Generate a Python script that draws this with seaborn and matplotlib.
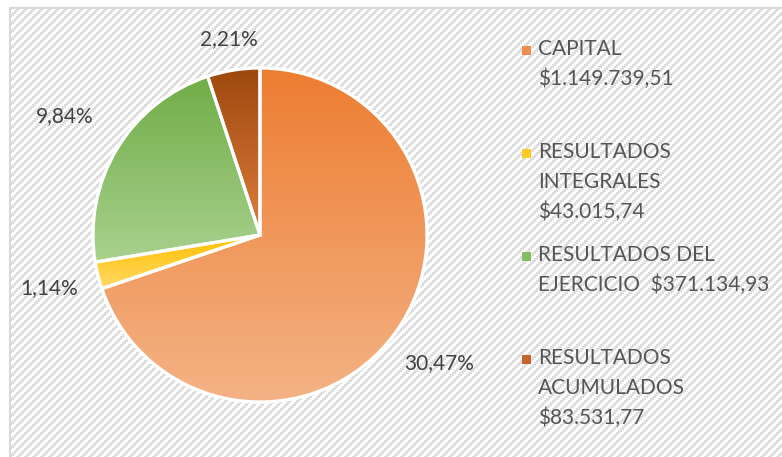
import matplotlib.pyplot as plt
import matplotlib.colors as mcolors
import seaborn as sns
import numpy as np
from matplotlib.patches import Rectangle

# data
categories = ["CAPITAL", "RESULTADOS INTEGRALES", "RESULTADOS DEL EJERCICIO", "RESULTADOS ACUMULADOS"]
values = [1149739.51, 43015.74, 371134.93, 83531.77]
pct_labels = ["30,47%", "1,14%", "9,84%", "2,21%"]
legend_labels = [
    "CAPITAL\n\\$1.149.739,51",
    "RESULTADOS\nINTEGRALES\n\\$43.015,74",
    "RESULTADOS DEL\nEJERCICIO  \\$371.134,93",
    "RESULTADOS\nACUMULADOS\n\\$83.531,77",
]
top_colors = ["#ED7D31", "#FFC000", "#70AD47", "#9E480E"]
bottom_colors = ["#F4B386", "#FFD966", "#A9D18E", "#DE7E3E"]
key_colors = ["#F08C50", "#FFC926", "#86BC62", "#C4662B"]

sns.set_theme(style="white")
plt.rcParams["font.family"] = ["Lato", "DejaVu Sans"]

fig = plt.figure(figsize=(7.82, 4.57), dpi=100)
ax = fig.add_axes([0, 0, 1, 1])
ax.set_xlim(0, 782)
ax.set_ylim(0, 457)
ax.set_autoscale_on(False)

# textured background (stepped diagonal stripes) inside a grey frame
W, H = 782, 457
yy, xx = np.mgrid[0:H, 0:W]
stripe = (xx // 2 + yy // 2) % 4 < 2
tex = np.ones((H, W, 3))
tex[stripe] = mcolors.to_rgb("#dedede")
tex[:, :10] = 1.0
tex[:8, :] = 1.0
ax.imshow(tex, extent=(0, W, 0, H), origin="upper", aspect="auto",
          zorder=0.2, interpolation="nearest")
ax.add_patch(Rectangle((10, -10), 800, H - 8 + 10, facecolor="none",
                       edgecolor="#d9d9d9", linewidth=1.5, zorder=0.5))

wedges, _ = ax.pie(values, center=(260, 222), radius=167, startangle=90,
                   counterclock=False, colors=top_colors, frame=True,
                   wedgeprops=dict(edgecolor="white", linewidth=2.3))

# vertical gradient per slice
for w, c_top, c_bot in zip(wedges, top_colors, bottom_colors):
    verts = w.get_path().vertices
    x0, y0 = verts.min(axis=0)
    x1, y1 = verts.max(axis=0)
    t = np.linspace(0, 1, 256)[:, None]
    a = np.array(mcolors.to_rgb(c_bot))
    b = np.array(mcolors.to_rgb(c_top))
    grad = (a * (1 - t) + b * t)[:, None, :]
    im = ax.imshow(grad, extent=(x0, x1, y0, y1), origin="lower",
                   aspect="auto", zorder=1, interpolation="bilinear")
    im.set_clip_path(w)
    w.set_facecolor("none")
    w.set_zorder(2)

# white halo behind the pie
ax.add_patch(plt.Circle((260, 222), 168.5, facecolor="white", edgecolor="none", zorder=0.8))

# percentage labels outside the slices
label_dist = [1.32, 1.30, 1.37, 1.19]
for w, lab, d in zip(wedges, pct_labels, label_dist):
    ang = np.deg2rad((w.theta1 + w.theta2) / 2)
    ax.text(260 + 167 * d * np.cos(ang), 222 + 167 * d * np.sin(ang), lab,
            ha="center", va="center", fontsize=15, color="#404040")

# legend
first_line_top = [44, 147, 250, 353]
for lab, col, yt in zip(legend_labels, key_colors, first_line_top):
    ax.add_patch(Rectangle((522, H - yt - 11), 9, 9, facecolor=col,
                           edgecolor="none", zorder=3))
    ax.text(538, H - yt + 5, lab, ha="left", va="top", fontsize=15,
            color="#555555", linespacing=1.62)

ax.set_xlim(0, W)
ax.set_ylim(0, H)
ax.set_aspect("equal")
ax.axis("off")

fig.savefig("out.png", dpi=100)
